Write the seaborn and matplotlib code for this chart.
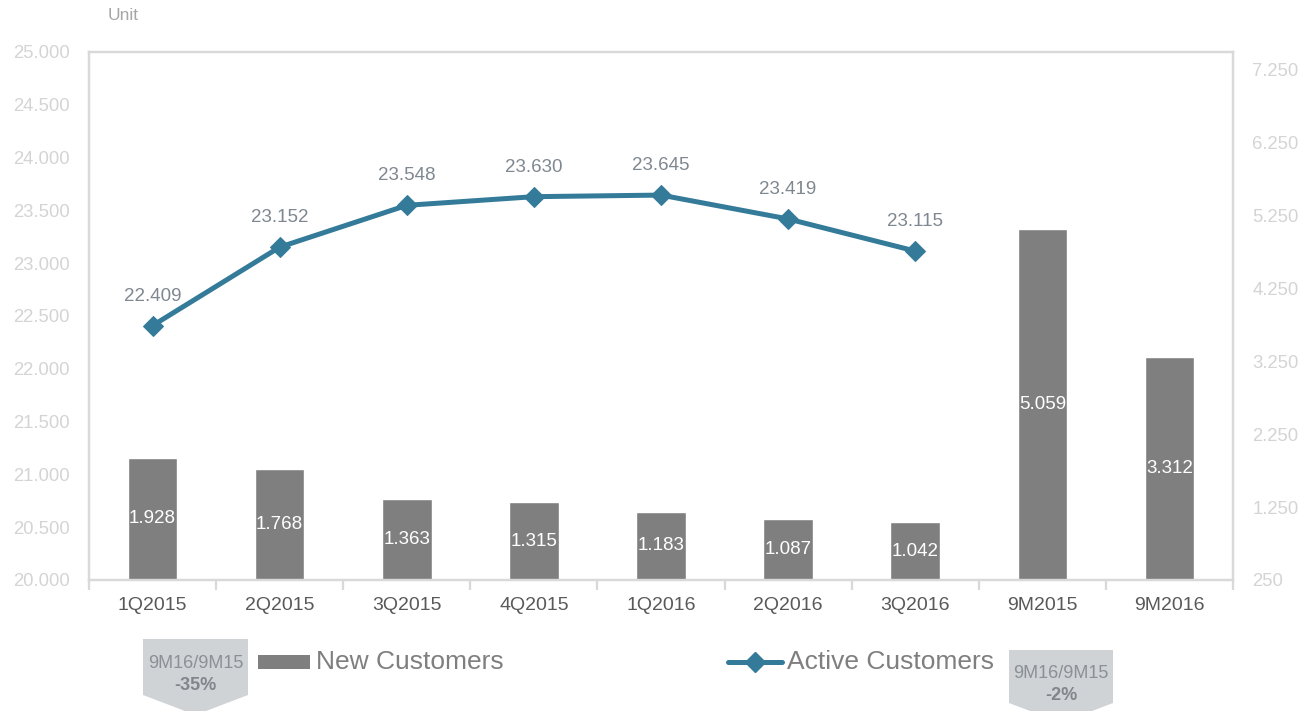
import matplotlib
matplotlib.use("Agg")
import matplotlib.pyplot as plt
from matplotlib.patches import Polygon, Rectangle
from matplotlib.lines import Line2D
from matplotlib.ticker import FixedLocator, FuncFormatter
import seaborn as sns
import pandas as pd

# ---- data -------------------------------------------------------------
categories = ["1Q2015", "2Q2015", "3Q2015", "4Q2015", "1Q2016",
              "2Q2016", "3Q2016", "9M2015", "9M2016"]
new_customers = [1928, 1768, 1363, 1315, 1183, 1087, 1042, 5059, 3312]

active_periods = ["1Q2015", "2Q2015", "3Q2015", "4Q2015", "1Q2016",
                  "2Q2016", "3Q2016"]
active_customers = [22409, 23152, 23548, 23630, 23645, 23419, 23115]

left_ticks = [20000, 20500, 21000, 21500, 22000, 22500, 23000, 23500,
              24000, 24500, 25000]
right_ticks = [250, 1250, 2250, 3250, 4250, 5250, 6250, 7250]

callout_title = "9M16/9M15"
callout_new = "-35%"
callout_active = "-2%"

# ---- style ------------------------------------------------------------
sns.set_theme(style="white")
plt.rcParams["font.family"] = ["Liberation Sans", "DejaVu Sans"]

BAR = "#7f7f7f"
LINE = "#347b9a"
FRAME = "#d9d9d9"
AXIS_TXT = "#d4d4d4"
XTXT = "#595959"
LBL = "#7f8790"

W, H = 1314, 711
fig = plt.figure(figsize=(W / 100, H / 100), dpi=100)
fig.patch.set_facecolor("white")

x0, x1, y0, y1 = 89, 1233, 52, 580
ax = fig.add_axes([x0 / W, 1 - y1 / H, (x1 - x0) / W, (y1 - y0) / H])
ax2 = ax.twinx()


def thousands(v, _pos=None):
    return f"{int(round(v)):,}".replace(",", ".")


# bars: New Customers (right-hand scale)
df_bar = pd.DataFrame({"period": categories, "value": new_customers})
sns.barplot(data=df_bar, x="period", y="value", order=categories,
            color=BAR, saturation=1, width=0.39, ax=ax, zorder=2)
ax.set_ylim(250, 7490)
for p, v in zip(ax.patches, new_customers):
    cx = p.get_x() + p.get_width() / 2
    ax.text(cx, 250 + (v - 250) / 2, thousands(v), ha="center", va="center",
            color="white", fontsize=13.5, zorder=5)

# line: Active Customers (left-hand scale)
df_line = pd.DataFrame({"pos": [categories.index(p) for p in active_periods],
                        "value": active_customers})
sns.lineplot(data=df_line, x="pos", y="value", ax=ax2, color=LINE,
             linewidth=3.6, marker="D", markersize=10,
             markeredgecolor=LINE, zorder=4)
ax2.set_ylim(20000, 25000)
for xp, v in zip(df_line["pos"], active_customers):
    ax2.annotate(thousands(v), (xp, v), xytext=(0, 15),
                 textcoords="offset points", ha="center", va="bottom",
                 color=LBL, fontsize=13.5)

# axis placement: bars read on the right, line on the left
ax.yaxis.tick_right()
ax.yaxis.set_major_locator(FixedLocator(right_ticks))
ax.yaxis.set_major_formatter(FuncFormatter(thousands))
ax2.yaxis.tick_left()
ax2.yaxis.set_major_locator(FixedLocator(left_ticks))
ax2.yaxis.set_major_formatter(FuncFormatter(thousands))

for a in (ax, ax2):
    a.set_xlabel("")
    a.set_ylabel("")
    for s in a.spines.values():
        s.set_color(FRAME)
        s.set_linewidth(1.6)
    a.tick_params(axis="y", length=0, labelsize=13.3, labelcolor=AXIS_TXT)

ax.tick_params(axis="y", pad=14)
ax2.tick_params(axis="y", pad=14)

ax.set_xlim(-0.5, len(categories) - 0.5)
ax.set_xticks(range(len(categories)))
ax.set_xticklabels(categories)
ax.tick_params(axis="x", which="major", length=0, labelsize=14,
               labelcolor=XTXT, pad=12, labelbottom=True)
ax.set_xticks([i - 0.5 for i in range(len(categories) + 1)], minor=True)
ax.tick_params(axis="x", which="minor", bottom=True, length=7, width=1.6,
               color=FRAME, direction="out")

# ---- annotations below the plot (pixel space overlay) -----------------
ov = fig.add_axes([0, 0, 1, 1], zorder=10)
ov.set_xlim(0, W)
ov.set_ylim(H, 0)
ov.axis("off")
ov.patch.set_alpha(0)

ov.text(108, 15, "Unit", fontsize=12.5, color="#a6a6a6", va="center")


def callout(xl, xr, top, shoulder, pct):
    cx = (xl + xr) / 2
    tip = shoulder + (cx - xl) * 16 / 42
    ov.add_patch(Polygon([(xl, top), (xr, top), (xr, shoulder), (cx, tip),
                          (xl, shoulder)], closed=True, facecolor="#d0d3d6",
                         edgecolor="none", clip_on=False))
    ov.text(cx, top + 24, callout_title, ha="center", va="center",
            fontsize=13, color="#8a9096")
    ov.text(cx, top + 46, pct, ha="center", va="center", fontsize=13,
            fontweight="bold", color="#80868c")


callout(143, 248, 639, 695, callout_new)
callout(1009, 1113, 650, 703, callout_active)

# legend entries
ov.add_patch(Rectangle((258, 655), 52, 14, facecolor=BAR, edgecolor="none"))
ov.text(316, 662, "New Customers", fontsize=19, color="#7f7f7f",
        va="center")
ov.add_line(Line2D([728, 782], [662, 662], color=LINE, linewidth=3.6,
                   solid_capstyle="round"))
ov.add_line(Line2D([755], [662], color=LINE, marker="D", markersize=10))
ov.text(787, 662, "Active Customers", fontsize=19, color="#7f7f7f",
        va="center")

fig.savefig("out.png", dpi=100, facecolor="white")
